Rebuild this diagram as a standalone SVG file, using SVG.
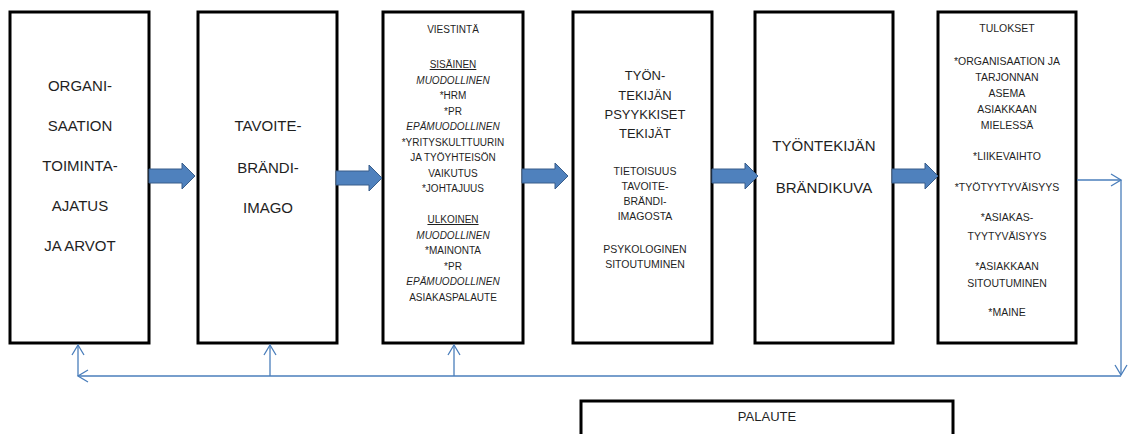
<svg xmlns="http://www.w3.org/2000/svg" width="1139" height="434" viewBox="0 0 1139 434">
<style>
.box{fill:#fff;stroke:#000;stroke-width:3}
text{font-family:"Liberation Sans",Arial,sans-serif;fill:#1f1f1f;text-anchor:middle}
.big{font-size:15px}
.mid{font-size:13px}
.sm{font-size:10.5px}
.xs{font-size:10px}
.it{font-style:italic}
.ul{text-decoration:underline}
.fb{fill:none;stroke:#4a7ebb;stroke-width:1.3}
.blk{fill:#4f81bd;stroke:#385d8a;stroke-width:1}
</style>
<defs>
<marker id="open" markerUnits="userSpaceOnUse" markerWidth="14" markerHeight="16" refX="11" refY="7" orient="auto">
<path d="M1,1 L11,7 L1,13" fill="none" stroke="#4a7ebb" stroke-width="1.3"/>
</marker>
<polygon id="barrow" points="0,-7 33,-7 33,-13 46,0 33,13 33,7 0,7"/>
</defs>

<g id="node-organisaatio">
<rect class="box" x="10" y="12" width="139" height="331"/>
<text class="big" x="80" y="91">ORGANI-</text>
<text class="big" x="80" y="131">SAATION</text>
<text class="big" x="80" y="171">TOIMINTA-</text>
<text class="big" x="80" y="211">AJATUS</text>
<text class="big" x="80" y="251">JA ARVOT</text>
</g>

<g id="node-tavoite">
<rect class="box" x="198" y="12" width="139" height="331"/>
<text class="big" x="268" y="131">TAVOITE-</text>
<text class="big" x="268" y="173">BRÄNDI-</text>
<text class="big" x="268" y="213">IMAGO</text>
</g>

<g id="node-viestinta">
<rect class="box" x="383" y="12" width="140" height="331"/>
<text class="xs" x="453" y="33">VIESTINTÄ</text>
<text class="xs ul" x="453" y="68">SISÄINEN</text>
<text class="xs it" x="453" y="83.5">MUODOLLINEN</text>
<text class="xs" x="453" y="99">*HRM</text>
<text class="xs" x="453" y="114.5">*PR</text>
<text class="xs it" x="453" y="130">EPÄMUODOLLINEN</text>
<text class="xs" x="453" y="145.5">*YRITYSKULTTUURIN</text>
<text class="xs" x="453" y="161">JA TYÖYHTEISÖN</text>
<text class="xs" x="453" y="176.5">VAIKUTUS</text>
<text class="xs" x="453" y="192">*JOHTAJUUS</text>
<text class="xs ul" x="453" y="223">ULKOINEN</text>
<text class="xs it" x="453" y="238.5">MUODOLLINEN</text>
<text class="xs" x="453" y="254">*MAINONTA</text>
<text class="xs" x="453" y="269.5">*PR</text>
<text class="xs it" x="453" y="285">EPÄMUODOLLINEN</text>
<text class="xs" x="453" y="300.5">ASIAKASPALAUTE</text>
</g>

<g id="node-tyontekijan-psyykkiset">
<rect class="box" x="573" y="12" width="139" height="331"/>
<text class="mid" x="645" y="80">TYÖN-</text>
<text class="mid" x="645" y="100">TEKIJÄN</text>
<text class="mid" x="645" y="119">PSYYKKISET</text>
<text class="mid" x="645" y="138">TEKIJÄT</text>
<text class="sm" x="645" y="175">TIETOISUUS</text>
<text class="sm" x="645" y="190">TAVOITE-</text>
<text class="sm" x="645" y="205">BRÄNDI-</text>
<text class="sm" x="645" y="220">IMAGOSTA</text>
<text class="sm" x="645" y="253">PSYKOLOGINEN</text>
<text class="sm" x="645" y="268">SITOUTUMINEN</text>
</g>

<g id="node-brandikuva">
<rect class="box" x="755" y="12" width="138" height="331"/>
<text class="big" x="824" y="151">TYÖNTEKIJÄN</text>
<text class="big" x="824" y="193">BRÄNDIKUVA</text>
</g>

<g id="node-tulokset">
<rect class="box" x="938" y="12" width="138" height="331"/>
<text class="sm" x="1007" y="32">TULOKSET</text>
<text class="sm" x="1007" y="65">*ORGANISAATION JA</text>
<text class="sm" x="1007" y="81">TARJONNAN</text>
<text class="sm" x="1007" y="97">ASEMA</text>
<text class="sm" x="1007" y="113">ASIAKKAAN</text>
<text class="sm" x="1007" y="129">MIELESSÄ</text>
<text class="sm" x="1007" y="160">*LIIKEVAIHTO</text>
<text class="sm" x="1007" y="191">*TYÖTYYTYVÄISYYS</text>
<text class="sm" x="1007" y="221">*ASIAKAS-</text>
<text class="sm" x="1007" y="240">TYYTYVÄISYYS</text>
<text class="sm" x="1007" y="270">*ASIAKKAAN</text>
<text class="sm" x="1007" y="287">SITOUTUMINEN</text>
<text class="sm" x="1007" y="316">*MAINE</text>
</g>

<g id="node-palaute">
<rect class="box" x="581" y="401" width="372" height="36"/>
<text class="mid" x="767" y="421">PALAUTE</text>
</g>

<g id="connectors">
<use href="#barrow" class="blk" x="149" y="176"/>
<use href="#barrow" class="blk" x="336" y="178"/>
<use href="#barrow" class="blk" x="522" y="176"/>
<use href="#barrow" class="blk" x="712" y="176"/>
<use href="#barrow" class="blk" x="892" y="176"/>
<line class="fb" x1="1077" y1="180" x2="1121" y2="180" marker-end="url(#open)"/>
<line class="fb" x1="1121" y1="180" x2="1121" y2="375" marker-end="url(#open)"/>
<line class="fb" x1="1121" y1="376" x2="78" y2="376" marker-end="url(#open)"/>
<line class="fb" x1="78" y1="376" x2="78" y2="345" marker-end="url(#open)"/>
<line class="fb" x1="270" y1="376" x2="270" y2="345" marker-end="url(#open)"/>
<line class="fb" x1="454" y1="376" x2="454" y2="345" marker-end="url(#open)"/>
</g>
</svg>
